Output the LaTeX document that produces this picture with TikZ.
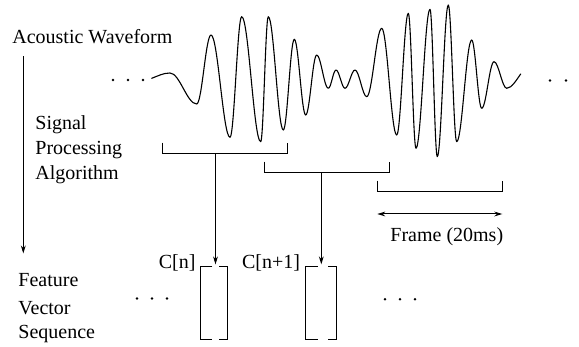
\documentclass[tikz,border=0pt]{standalone}
\usepackage{fontspec}
\setmainfont{Liberation Serif}
\usetikzlibrary{arrows.meta}
\begin{document}
\begin{tikzpicture}[x=0.5pt,y=-0.5pt,
  lbl/.style={inner sep=0pt,anchor=base west,font=\fontsize{10}{12}\selectfont},
  ln/.style={line width=0.5pt},
  arr/.style={line width=0.5pt,-{Stealth[length=4pt,width=2.4pt]}},
  darr/.style={line width=0.5pt,{Stealth[length=4pt,width=2.4pt]}-{Stealth[length=4pt,width=2.4pt]}},
  vecbox/.style={inner sep=0pt,minimum height=36pt},
  wave/.style={line width=0.55pt,line join=round,line cap=round},
  dot/.style={fill=black}]
\useasboundingbox (0,0) rectangle (579,347);

% texts
\node[lbl] (aw) at (12,43.5) {Acoustic Waveform};
\node[lbl] (sp1) at (35,130) {Signal};
\node[lbl] (sp2) at (35,155) {Processing};
\node[lbl] (sp3) at (35,180) {Algorithm};
\node[lbl] (fv1) at (18,287) {Feature};
\node[lbl] (fv2) at (18,315) {Vector};
\node[lbl] (fv3) at (18,338.5) {Sequence};
\node[lbl] (cn) at (158.5,268.3) {C[n]};
\node[lbl] (cn1) at (241.7,268.3) {C[n+1]};
\node[lbl] (fr) at (390,241.5) {Frame (20ms)};

% left processing arrow
\coordinate (la) at (23.3,56.5);
\coordinate (lb) at (23.3,253.5);
\draw[arr] (la) -- (lb);

% waveform
\draw[wave] (151.7,78.3) .. controls (158,76) and (163,73) .. (170,73)
  foreach \x/\y [remember=\x as \px (initially 170), remember=\y as \py (initially 73)] in
  {196.7/104, 211/35, 230/137.3, 241.7/16.7, 260.7/141.7, 268.3/16.7, 283.3/130,
   294.3/39.3, 305.7/115, 316.7/55, 328.3/88.3, 336/70, 345/88.3, 355/70, 366.7/96.7,
   381.7/28.3, 396.7/135, 408.3/13.3, 416/148.3, 430/9.3, 437.3/156.7, 448.3/5,
   456.7/141.7, 471.7/40, 481.7/108.3, 494/61.7, 506.7/88.3}
  { .. controls ({\px+0.3634*(\x-\px)},\py) and ({\x-0.3634*(\x-\px)},\y) .. (\x,\y) }
  .. controls (511.8,88.3) and (517,79) .. (520.7,74);

% ellipsis dots
\foreach \xx in {113,128,143} \fill[dot] (\xx,80) circle (1.4);
\foreach \xx in {550,566} \fill[dot] (\xx,80.5) circle (1.4);
\foreach \xx in {137,152,167} \fill[dot] (\xx,298.5) circle (1.4);
\foreach \xx in {385,400,415} \fill[dot] (\xx,299.3) circle (1.4);

% frame brackets
\coordinate (f1l) at (162.7,153.3);
\coordinate (f1r) at (287.3,153.3);
\coordinate (s1) at (215.5,153.3);
\draw[ln] (f1l) ++(0,-10.6) -- (f1l) -- (f1r) -- ++(0,-10.6);

\coordinate (f2l) at (264.3,172.3);
\coordinate (f2r) at (389.3,172.3);
\coordinate (s2) at (321.3,172.3);
\draw[ln] (f2l) ++(0,-10.6) -- (f2l) -- (f2r) -- ++(0,-10.6);

\coordinate (f3l) at (377.3,191.7);
\coordinate (f3r) at (502.3,191.7);
\draw[ln] (f3l) ++(0,-11) -- (f3l) -- (f3r) -- ++(0,-11);

% frame length arrow
\coordinate (da) at (377.3,214);
\coordinate (db) at (502.3,214);
\draw[darr] (da) -- (db);

% feature vectors
\node[vecbox,minimum width=13.3pt] (v1) at (214,303.2) {};
\node[vecbox,minimum width=15pt] (v2) at (321,303.2) {};
\foreach \v in {v1,v2}{
  \draw[ln] ([xshift=6pt]\v.north west) -- (\v.north west) -- (\v.south west) -- ([xshift=6pt]\v.south west);
  \draw[ln] ([xshift=-4.2pt]\v.north east) -- (\v.north east) -- (\v.south east) -- ([xshift=-4.2pt]\v.south east);
}

% connectors
\draw[arr,shorten >=1.2pt] (s1) -- (s1 |- v1.north);
\draw[arr,shorten >=1.2pt] (s2) -- (s2 |- v2.north);
\end{tikzpicture}
\end{document}
